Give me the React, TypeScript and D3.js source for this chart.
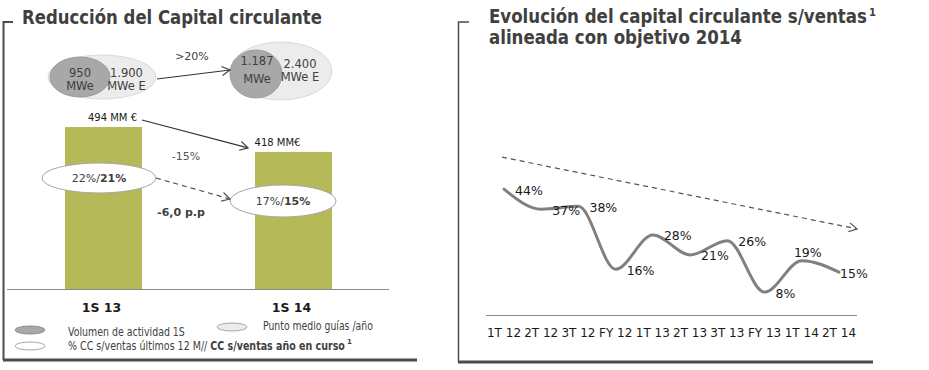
import React, { useLayoutEffect, useRef, useState } from "react";
import * as d3 from "d3";

// ---------- data ----------
const barCategories = ["1S 13", "1S 14"];
const capitalValues = [494, 418];
const capitalLabels = ["494 MM €", "418 MM€"];
const ccLast12 = [22, 17];
const ccCurrent = [21, 15];
const mweVolume = [950, 1187];
const mweGuide = [1900, 2400];
const changeCapital = "-15%";
const changePP = "-6,0 p.p";
const changeMwe = ">20%";

const quarters = ["1T 12", "2T 12", "3T 12", "FY 12", "1T 13", "2T 13", "3T 13", "FY 13", "1T 14", "2T 14"];
const ccRatio = [44, 37, 38, 16, 28, 21, 26, 8, 19, 15];
const labelPlacement = ["right", "right", "right", "right", "right", "right", "right", "right", "above", "end"];

const FONT = "DejaVu Sans, Verdana, sans-serif";
const esLocale = d3.formatLocale({ decimal: ",", thousands: ".", grouping: [3], currency: ["", "€"] });
const fmtInt = esLocale.format(",d");

// text squeezed horizontally to a target width (keeps glyph shapes, real bbox)
function FitText(props: any) {
  const { x, y, width, children, ...rest } = props;
  const ref = useRef<SVGTextElement>(null);
  const [k, setK] = useState(1);
  useLayoutEffect(() => {
    if (ref.current) {
      const w = ref.current.getComputedTextLength();
      if (w > 0) setK(width / w);
    }
  }, [width]);
  return (
    <text ref={ref} transform={`translate(${x},${y}) scale(${k},1)`} {...rest}>
      {children}
    </text>
  );
}

export default function App() {
  // ----- left panel scales -----
  const xBar = d3.scaleBand<string>().domain(barCategories).range([8, 389]).paddingInner(0.595).paddingOuter(0.3);
  const yBar = d3.scaleLinear().domain([0, 550]).range([289, 289 - (162 / 494) * 550]);
  const bw = xBar.bandwidth();
  const cx = (i: number) => (xBar(barCategories[i]) as number) + bw / 2;

  // ----- right panel scales -----
  const xQ = d3.scalePoint<string>().domain(quarters).range([504, 839]);
  const yQ = d3.scaleLinear().domain([0, 50]).range([315, 315 - 2.86 * 50]);
  const line = d3
    .line<number>()
    .x((_, i) => xQ(quarters[i]) as number)
    .y((d) => yQ(d))
    .curve(d3.curveMonotoneX);

  const dark = "#404040";
  const labelDx = [9, -16];
  const bubbleLayout = [
    { ocx: -1.5, ocy: 77, orx: 54, ory: 22, icx: -23.5, icy: 77, irx: 30, iry: 20, vy: [77, 90], gy: [77, 90], vx: -23.5, gx: 23 },
    { ocx: -12.5, ocy: 71, orx: 51, ory: 29, icx: -37.5, icy: 74, irx: 26, iry: 24, vy: [65, 83], gy: [68, 81], vx: -36.5, gx: 6.5 },
  ];
  const pctLayout = [
    { dx: -4.5, cy: 178, rx: 57, ry: 15 },
    { dx: -10.5, cy: 201, rx: 53, ry: 16 },
  ];

  const lastX = xQ(quarters[quarters.length - 1]) as number;
  const firstX = xQ(quarters[0]) as number;

  return (
    <svg width={929} height={370} style={{ position: "absolute", left: 0, top: 0, display: "block", background: "#fff" }} fontFamily={FONT}>
      <defs>
        <marker id="arrOpen" viewBox="0 0 12 12" refX="10" refY="6" markerWidth="12" markerHeight="12" markerUnits="userSpaceOnUse" orient="auto">
          <path d="M2,1.5 L10,6 L2,10.5" fill="none" stroke="#404040" strokeWidth={1.2} />
        </marker>
        <marker id="arrOpenGray" viewBox="0 0 12 12" refX="10" refY="6" markerWidth="12" markerHeight="12" markerUnits="userSpaceOnUse" orient="auto">
          <path d="M2,1.5 L10,6 L2,10.5" fill="none" stroke="#555" strokeWidth={1.2} />
        </marker>
      </defs>

      {/* ---------- LEFT PANEL ---------- */}
      <g>
        <path d="M3.5,360 L3.5,22 L13,22" fill="none" stroke="#4a4a4a" strokeWidth={2} />
        <line x1={3} x2={417} y1={360} y2={360} stroke="#4a4a4a" strokeWidth={3} />
        <FitText x={22} y={24} width={300} fontSize={19} fontWeight="bold" fill={dark}>
          Reducción del Capital circulante
        </FitText>

        {/* bubbles */}
        {bubbleLayout.map((b, i) => (
          <g key={"bub" + i}>
            <ellipse cx={cx(i) + b.ocx} cy={b.ocy} rx={b.orx} ry={b.ory} fill="#ececec" stroke="#dadada" strokeWidth={1} />
            <ellipse cx={cx(i) + b.icx} cy={b.icy} rx={b.irx} ry={b.iry} fill="#a8a8a8" stroke="#9c9c9c" strokeWidth={1} />
            <text x={cx(i) + b.vx} y={b.vy[0]} fontSize={11.5} fill={dark} textAnchor="middle">{fmtInt(mweVolume[i])}</text>
            <text x={cx(i) + b.vx} y={b.vy[1]} fontSize={11.5} fill={dark} textAnchor="middle">MWe</text>
            <text x={cx(i) + b.gx} y={b.gy[0]} fontSize={11.5} fill={dark} textAnchor="middle">{fmtInt(mweGuide[i])}</text>
            <text x={cx(i) + b.gx} y={b.gy[1]} fontSize={11.5} fill={dark} textAnchor="middle">MWe E</text>
          </g>
        ))}
        <line x1={157} y1={79} x2={230} y2={70} stroke="#333" strokeWidth={1.2} markerEnd="url(#arrOpen)" />
        <text x={192} y={60} fontSize={11} fill={dark} textAnchor="middle">{changeMwe}</text>

        {/* bars */}
        {capitalValues.map((v, i) => (
          <rect key={"bar" + i} x={xBar(barCategories[i])} y={yBar(v)} width={bw} height={yBar(0) - yBar(v)} fill="#b5b957" />
        ))}
        <line x1={7} x2={389} y1={yBar(0) + 0.5} y2={yBar(0) + 0.5} stroke="#8a8a8a" strokeWidth={1} />
        {capitalValues.map((v, i) => (
          <text key={"vl" + i} x={cx(i) + labelDx[i]} y={yBar(v) - 6} fontSize={10} fill="#1a1a1a" textAnchor="middle">
            {capitalLabels[i]}
          </text>
        ))}
        <line
          x1={(xBar(barCategories[0]) as number) + bw}
          y1={yBar(capitalValues[0]) - 7}
          x2={(xBar(barCategories[1]) as number) - 7}
          y2={yBar(capitalValues[1]) - 4}
          stroke="#333"
          strokeWidth={1.2}
          markerEnd="url(#arrOpen)"
        />
        <text x={186} y={160} fontSize={11} fill="#555" textAnchor="middle">{changeCapital}</text>

        {/* % ellipses */}
        {pctLayout.map((p, i) => (
          <g key={"pct" + i}>
            <ellipse cx={cx(i) + p.dx} cy={p.cy} rx={p.rx} ry={p.ry} fill="#fff" stroke="#a6a6a6" strokeWidth={1} />
            <text x={cx(i) + p.dx} y={p.cy + 4} fontSize={11} fill={dark} textAnchor="middle">
              {ccLast12[i]}%/<tspan fontWeight="bold">{ccCurrent[i]}%</tspan>
            </text>
          </g>
        ))}
        <line
          x1={cx(0) + pctLayout[0].dx + pctLayout[0].rx}
          y1={pctLayout[0].cy}
          x2={cx(1) + pctLayout[1].dx - pctLayout[1].rx}
          y2={pctLayout[1].cy - 2}
          stroke="#555"
          strokeWidth={1.2}
          strokeDasharray="5,4"
          markerEnd="url(#arrOpenGray)"
        />
        <text x={181} y={216} fontSize={11} fontWeight="bold" fill={dark} textAnchor="middle">{changePP}</text>

        {/* categories */}
        {barCategories.map((c, i) => (
          <text key={"cat" + i} x={cx(i) - 2} y={312} fontSize={12.5} fontWeight="bold" fill="#1a1a1a" textAnchor="middle">
            {c}
          </text>
        ))}

        {/* legend */}
        <ellipse cx={30} cy={330} rx={15} ry={4} fill="#a8a8a8" stroke="#8c8c8c" strokeWidth={1} />
        <FitText x={68} y={335.5} width={117} fontSize={11.5} fill={dark}>Volumen de actividad 1S</FitText>
        <ellipse cx={232} cy={327} rx={15} ry={4} fill="#ececec" stroke="#a6a6a6" strokeWidth={1} />
        <FitText x={263} y={330} width={110} fontSize={11.5} fill={dark}>Punto medio guías /año</FitText>
        <ellipse cx={30} cy={346} rx={15} ry={4} fill="#fff" stroke="#a6a6a6" strokeWidth={1} />
        <FitText x={68} y={350} width={277} fontSize={11.5} fill={dark}>
          % CC s/ventas últimos 12 M// <tspan fontWeight="bold">CC s/ventas año en curso</tspan>
        </FitText>
        <text x={347} y={344} fontSize={7} fontWeight="bold" fill={dark}>1</text>
      </g>

      {/* ---------- RIGHT PANEL ---------- */}
      <g>
        <path d="M458.5,362 L458.5,22 L469,22" fill="none" stroke="#4a4a4a" strokeWidth={1.5} />
        <line x1={458} x2={873} y1={362} y2={362} stroke="#4a4a4a" strokeWidth={3} />
        <FitText x={489} y={23} width={378} fontSize={19} fontWeight="bold" fill={dark}>
          Evolución del capital circulante s/ventas
        </FitText>
        <text x={869} y={16} fontSize={10} fontWeight="bold" fill={dark}>1</text>
        <FitText x={489} y={44} width={253} fontSize={19} fontWeight="bold" fill={dark}>
          alineada con objetivo 2014
        </FitText>

        {/* trend arrow */}
        <line x1={firstX - 2} y1={yQ(55.2)} x2={lastX + 18} y2={yQ(30.1)} stroke="#555" strokeWidth={1.2} strokeDasharray="5,4" markerEnd="url(#arrOpenGray)" />

        {/* axis */}
        <line x1={486} x2={857} y1={315.5} y2={315.5} stroke="#8a8a8a" strokeWidth={1} />
        {quarters.map((q) => (
          <text key={q} x={xQ(q)} y={337} fontSize={12} fill="#1a1a1a" textAnchor="middle">{q}</text>
        ))}

        {/* line */}
        <path d={line(ccRatio) as string} fill="none" stroke="#808080" strokeWidth={3} strokeLinecap="round" />
        {ccRatio.map((v, i) => {
          const px = xQ(quarters[i]) as number;
          const py = yQ(v);
          const pl = labelPlacement[i];
          let tx = px + 11, ty = py + 5.5, anchor = "start";
          if (pl === "above") { tx = px + 6; ty = py - 4; anchor = "middle"; }
          if (pl === "end") { tx = px + 1; ty = py + 5.5; }
          return (
            <text key={"dl" + i} x={tx} y={ty} fontSize={12.5} fill="#1a1a1a" textAnchor={anchor}>{v}%</text>
          );
        })}
      </g>
    </svg>
  );
}
